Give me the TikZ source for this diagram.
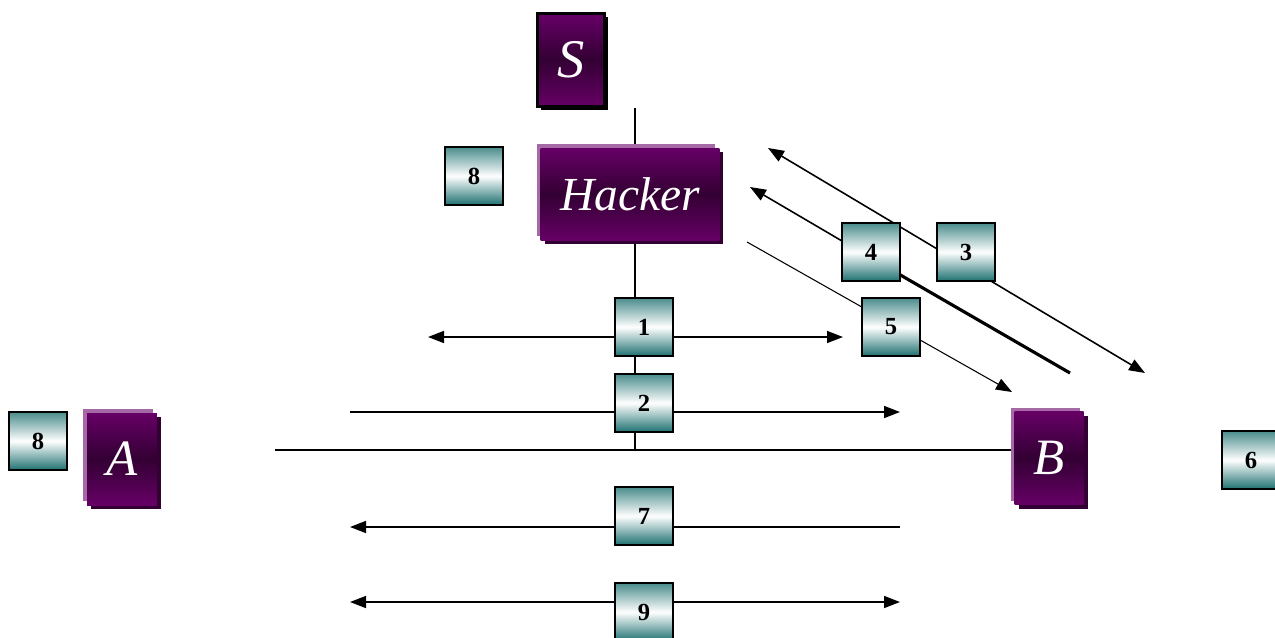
\documentclass[tikz,border=0pt]{standalone}
\usepackage{fontspec}
\setmainfont{Liberation Serif}
\usetikzlibrary{arrows.meta,shadows,backgrounds}
\definecolor{plum}{RGB}{102,0,102}
\definecolor{plumdark}{RGB}{51,0,51}
\definecolor{plumlight}{RGB}{165,105,165}
\definecolor{tealtop}{RGB}{75,140,140}
\definecolor{tealbot}{RGB}{30,112,112}
\tikzset{
	host/.style={top color=plum, bottom color=plum, middle color=plumdark,
		text=white, inner sep=0pt, font=\fontsize{29}{29}\selectfont\itshape,
		general shadow={shadow xshift=-0.08cm, shadow yshift=0.08cm, fill=plumlight},
		general shadow={shadow xshift=0.08cm, shadow yshift=-0.08cm, fill=plumdark}},
	server/.style={top color=plum, bottom color=plum, middle color=plumdark,
		text=white, inner sep=0pt, font=\fontsize{31}{31}\selectfont\itshape,
		draw=black, line width=1.2pt,
		general shadow={shadow xshift=0.07cm, shadow yshift=-0.07cm, fill=black}},
	numbox/.style={draw=black, line width=1.4pt, top color=tealtop,
		bottom color=tealbot, middle color=white, minimum size=1.16cm,
		inner sep=0pt, font=\fontsize{14}{14}\selectfont\bfseries},
	wire/.style={line width=1.3pt},
	tip/.style={-{Triangle[length=0.32cm, width=0.24cm]}},
	tips/.style={{Triangle[length=0.32cm, width=0.24cm]}-{Triangle[length=0.32cm, width=0.24cm]}}
}

\begin{document}
\begin{tikzpicture}[x=0.02cm, y=-0.02cm]
	\useasboundingbox (0,0) rectangle (1275,637);

	% hosts
	\node[server, minimum width=1.34cm, minimum height=1.86cm] (S) at (571,60) {S};
	\node[host, minimum width=3.58cm, minimum height=1.84cm, font=\fontsize{27}{27}\selectfont\itshape] (hacker) at (630,194) {Hacker};
	\node[host, minimum width=1.4cm, minimum height=1.84cm] (A) at (122,459) {A};
	\node[host, minimum width=1.38cm, minimum height=1.86cm] (B) at (1049,458) {B};

	% steps
	\node[numbox] (n1) at (644,327) {1};
	\node[numbox] (n2) at (644,403) {2};
	\node[numbox] (n3) at (966,252) {3};
	\node[numbox] (n4) at (871,252) {4};
	\node[numbox] (n5) at (891,327) {5};
	\node[numbox] (n6) at (1251,460) {6};
	\node[numbox] (n7) at (644,516) {7};
	\node[numbox] (n8) at (474,176) {8};
	\node[numbox] (n8a) at (38,441) {8};
	\node[numbox] (n9) at (644,612) {9};

	\coordinate (tap) at (635,108);
	\coordinate (bus) at (275,450);
	\coordinate (join) at (635,450);

	\begin{scope}[on background layer]
		\draw[wire] (tap) -- (hacker.north -| tap);
		\draw[wire] (hacker.south -| tap) -- (join);
		\draw[wire] (bus) -- (B.west |- bus);

		\draw[tips, line width=0.9pt] (428,337) -- (843,337);
		\draw[tip, line width=0.9pt] (350,412) -- (900,412);
		\draw[tip, line width=0.9pt] (900,527) -- (350,527);
		\draw[tips, line width=0.9pt] (350,602) -- (900,602);

		\draw[tips, line width=0.9pt] (768,148) -- (1145,373);
		\draw[tip, line width=0.9pt] (871,258) -- (750,187);
		\draw[line width=1.8pt] (871,258) -- (1070,373);
		\draw[tip, line width=0.6pt] (747,242) -- (1012,392);
	\end{scope}
\end{tikzpicture}
\end{document}
